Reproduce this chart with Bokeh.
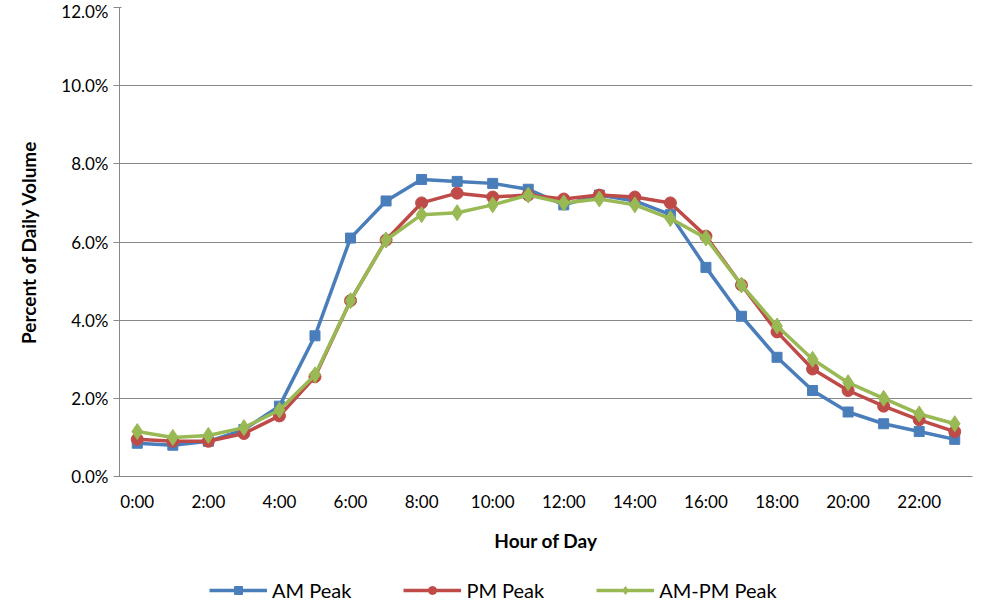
from bokeh.plotting import figure
from bokeh.layouts import column
from bokeh.models import Legend, FixedTicker, NumeralTickFormatter, Range1d
from bokeh.embed import file_html
from bokeh.resources import INLINE

hours = list(range(24))
hour_labels = {h: f"{h}:00" for h in range(0, 24, 2)}
am_peak = [0.85, 0.8, 0.9, 1.2, 1.8, 3.6, 6.1, 7.05, 7.6, 7.55, 7.5, 7.35,
           6.95, 7.2, 7.05, 6.7, 5.35, 4.1, 3.05, 2.2, 1.65, 1.35, 1.15, 0.95]
pm_peak = [0.95, 0.9, 0.9, 1.1, 1.55, 2.55, 4.5, 6.05, 7.0, 7.25, 7.15, 7.2,
           7.1, 7.2, 7.15, 7.0, 6.15, 4.9, 3.7, 2.75, 2.2, 1.8, 1.45, 1.15]
ampm_peak = [1.15, 1.0, 1.05, 1.25, 1.7, 2.6, 4.5, 6.05, 6.7, 6.75, 6.95, 7.2,
             7.0, 7.1, 6.95, 6.6, 6.1, 4.9, 3.85, 3.0, 2.4, 2.0, 1.6, 1.35]

FONT = "Lato"
p = figure(width=974, height=560, output_backend="svg", toolbar_location=None,
           x_range=Range1d(-0.5, 23.5), y_range=Range1d(0, 0.12),
           x_axis_label="Hour of Day", y_axis_label="Percent of Daily Volume")
p.outline_line_color = None
p.min_border_left = 119
p.min_border_top = 7
p.min_border_right = 2
p.min_border_bottom = 84
p.xgrid.grid_line_color = None
p.ygrid.grid_line_color = "#888888"
p.yaxis.ticker = FixedTicker(ticks=[i * 0.02 for i in range(7)])
p.yaxis.formatter = NumeralTickFormatter(format="0.0%")
p.xaxis.ticker = FixedTicker(ticks=list(range(0, 24, 2)))
p.xaxis.major_label_overrides = hour_labels
for ax in (p.xaxis, p.yaxis):
    ax.axis_label_text_font = FONT
    ax.axis_label_text_font_style = "bold"
    ax.axis_label_text_font_size = "19px"
    ax.major_label_text_font = FONT
    ax.major_label_text_font_size = "17px"
    ax.major_label_text_color = "black"
    ax.axis_label_text_color = "black"
    ax.axis_line_color = "#888888"
    ax.major_tick_line_color = "#888888"
    ax.minor_tick_line_color = None
p.xaxis.major_tick_in = 0
p.xaxis.major_tick_out = 0
p.xaxis.major_label_standoff = 14
p.xaxis.axis_label_standoff = 14
p.yaxis.axis_label_standoff = 18

# separate strip below the chart that only carries the legend;
# its glyphs sit outside its y range so only the legend shows
lf = figure(width=974, height=44, output_backend="svg", toolbar_location=None,
            x_range=Range1d(0, 1), y_range=Range1d(100, 101))
lf.axis.visible = False
lf.grid.visible = False
lf.outline_line_color = None
lf.min_border = 0

series = [("AM Peak", am_peak, "#4A7EBB", "square", 10),
          ("PM Peak", pm_peak, "#BE4B48", "circle", 12),
          ("AM-PM Peak", ampm_peak, "#98B954", "diamond", 16)]
items = []
for name, vals, color, marker, size in series:
    y = [v / 100 for v in vals]
    p.line(hours, y, line_color=color, line_width=3.5)
    p.scatter(hours, y, marker=marker, size=size, color=color)
    l = lf.line(hours, y, line_color=color, line_width=3.5)
    s = lf.scatter(hours, y, marker=marker, size=size, color=color)
    items.append((name, [l, s]))

legend = Legend(items=items, orientation="horizontal", location=(90, 2),
                label_text_font=FONT, label_text_font_size="20px",
                label_text_color="black",
                border_line_color=None, background_fill_alpha=0,
                glyph_width=58, spacing=52, padding=4)
lf.add_layout(legend, "center")

open("out.html", "w").write(file_html(column(p, lf, spacing=0), INLINE))
